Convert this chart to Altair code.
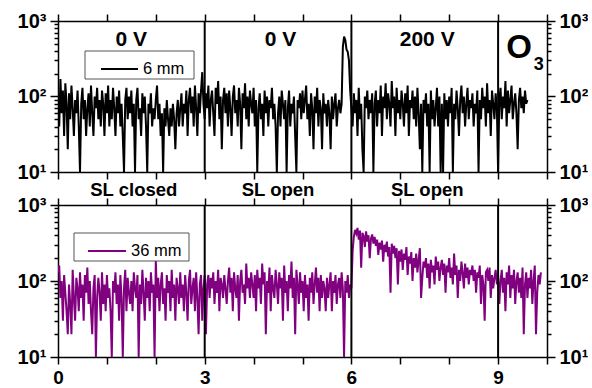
import altair as alt
import numpy as np
import pandas as pd

# ---------------- data ----------------
step = 0.025  # time step of the traces (x units)

top_6mm = [
    90, 40, 170, 60, 120, 30, 150, 80, 20, 110, 50, 140, 70, 30, 90, 60, 120, 40, 10, 80,
    130, 50, 90, 30, 70, 110, 40, 140, 60, 30, 100, 70, 130, 50, 90, 40, 120, 80, 30, 110,
    60, 140, 40, 90, 50, 130, 70, 30, 100, 60, 120, 40, 80, 30, 10, 90, 130, 50, 100, 60,
    120, 40, 80, 10, 90, 130, 50, 70, 30, 110, 60, 100, 40, 10, 80, 60, 110, 40, 70, 50,
    90, 140, 50, 80, 30, 60, 10, 70, 40, 90, 50, 30, 70, 40, 80, 50, 20, 60, 90, 40,
    70, 110, 40, 80, 60, 120, 30, 90, 130, 60, 100, 40, 140, 70, 30, 110, 60, 120, 210, 80,
    50, 110, 70, 140, 40, 90, 120, 60, 30, 130, 80, 160, 50, 100, 20, 90, 130, 60, 110, 40,
    120, 70, 30, 100, 140, 60, 90, 40, 130, 80, 20, 110, 70, 150, 50, 100, 40, 120, 80, 60,
    130, 40, 90, 10, 70, 110, 50, 80, 30, 120, 60, 100, 40, 90, 70, 130, 50, 80, 40, 10,
    60, 100, 40, 120, 80, 50, 90, 10, 70, 120, 40, 80, 60, 100, 30, 10, 90, 70, 110, 50,
    120, 60, 90, 140, 50, 80, 30, 110, 70, 20, 100, 60, 130, 40, 90, 70, 20, 110, 60, 80,
    40, 90, 60, 20, 100, 50, 80, 110, 40, 70, 90, 60, 80, 450, 620, 560, 420, 390, 300, 120,
    70, 40, 110, 60, 90, 30, 130, 50, 80, 20, 10, 100, 70, 120, 50, 90, 60, 110, 10, 80,
    120, 40, 90, 60, 140, 30, 100, 70, 150, 50, 110, 80, 40, 160, 70, 100, 30, 130, 60, 90,
    50, 120, 80, 40, 110, 60, 140, 30, 90, 70, 120, 50, 100, 40, 130, 60, 20, 80, 10, 90,
    60, 110, 40, 80, 10, 120, 50, 90, 40, 70, 130, 40, 100, 10, 80, 10, 110, 50, 90, 40,
    100, 60, 130, 10, 80, 50, 120, 70, 30, 90, 140, 60, 100, 40, 80, 130, 50, 90, 70, 110,
    40, 80, 60, 120, 10, 90, 50, 130, 70, 100, 40, 150, 60, 90, 30, 120, 80, 50, 110, 70,
    10, 90, 130, 50, 100, 70, 160, 40, 120, 60, 90, 140, 50, 80, 110, 60, 20, 90, 130, 70,
    100, 60, 120, 80, 90,
]

bottom_36mm = [
    130, 160, 60, 100, 30, 120, 70, 40, 20, 90, 50, 20, 140, 60, 30, 110, 80, 40, 130, 60,
    90, 30, 120, 70, 150, 50, 100, 40, 20, 80, 120, 10, 60, 110, 70, 30, 130, 50, 90, 40,
    120, 60, 80, 40, 10, 100, 70, 130, 50, 90, 30, 120, 60, 10, 80, 140, 40, 110, 70, 50,
    100, 40, 130, 80, 60, 120, 10, 90, 50, 140, 70, 30, 110, 60, 100, 40, 130, 70, 90, 10,
    190, 60, 110, 40, 90, 130, 50, 80, 30, 120, 70, 100, 40, 140, 60, 90, 30, 110, 80, 50,
    130, 60, 90, 40, 120, 70, 30, 100, 140, 50, 80, 110, 40, 130, 60, 20, 90, 120, 30, 80,
    120, 20, 90, 120, 60, 110, 80, 130, 50, 100, 70, 140, 40, 110, 90, 60, 120, 80, 50, 100,
    150, 70, 110, 40, 130, 80, 60, 120, 30, 100, 140, 70, 90, 50, 170, 80, 110, 60, 130, 90,
    60, 120, 40, 140, 80, 110, 50, 170, 90, 130, 20, 100, 70, 150, 40, 120, 80, 60, 140, 90,
    50, 130, 80, 110, 30, 160, 70, 100, 40, 120, 80, 180, 60, 110, 20, 140, 90, 50, 130, 70,
    100, 40, 120, 60, 90, 30, 110, 70, 130, 50, 90, 150, 70, 110, 40, 120, 60, 100, 80, 40,
    110, 60, 90, 130, 40, 100, 70, 120, 50, 90, 110, 60, 130, 80, 10, 100, 70, 120, 60, 90,
    80, 250, 380, 470, 420, 500, 350, 460, 150, 430, 390, 280, 450, 330, 400, 200, 360, 410, 310, 380,
    290, 350, 220, 320, 260, 340, 180, 300, 240, 330, 210, 280, 70, 310, 230, 290, 200, 270, 90, 250,
    180, 260, 140, 230, 190, 280, 120, 210, 170, 240, 100, 200, 150, 230, 130, 190, 270, 60, 110, 180,
    150, 200, 110, 170, 80, 190, 130, 160, 90, 210, 140, 180, 100, 150, 190, 120, 170, 70, 160, 130,
    200, 110, 150, 90, 230, 120, 160, 60, 140, 100, 180, 130, 80, 170, 110, 150, 90, 140, 120, 160,
    100, 140, 70, 130, 110, 160, 50, 120, 90, 30, 130, 140, 100, 150, 60, 120, 80, 110, 140, 90,
    120, 50, 100, 140, 70, 110, 40, 130, 90, 160, 60, 120, 80, 140, 50, 100, 130, 70, 110, 60,
    150, 20, 90, 130, 60, 110, 80, 140, 50, 100, 160, 20, 70, 120, 90, 130,
]

dividers = [3, 6, 9]
voltage_text = ["0 V", "0 V", "200 V"]
voltage_x = [1.5, 4.55, 7.55]
shutter_text = ["SL closed", "SL open", "SL open"]
shutter_x = [1.55, 4.5, 7.55]
species_text = ["O", "3"]
species_x = [9.43, 9.83]
x_ticks = list(range(0, 11))
y_ticks = [10, 20, 30, 40, 50, 60, 70, 80, 90,
           100, 200, 300, 400, 500, 600, 700, 800, 900, 1000]

# ---------------- styling ----------------
FONT = "Liberation Sans"
W = 489

xscale = alt.Scale(domain=[0, 10], nice=False, zero=False)
yscale = alt.Scale(type="log", domain=[10, 1000], nice=False)

MAJOR = "datum.value == 10 || datum.value == 100 || datum.value == 1000"
YLAB = ("datum.value == 10 ? '10\u00b9' : datum.value == 100 ? '10\u00b2' : "
        "datum.value == 1000 ? '10\u00b3' : ''")


def y_axis(orient):
    return alt.Axis(orient=orient, values=y_ticks, labelExpr=YLAB,
                    tickSize={"condition": {"test": MAJOR, "value": 8}, "value": 4},
                    labelFontSize=20, labelPadding=4, title=None, grid=False,
                    labelOverlap=False)


def x_axis(orient, labels):
    kw = dict(orient=orient, values=x_ticks, tickSize=7, title=None, grid=False,
              labelFlush=False)
    if labels:
        kw.update(labelExpr="datum.value % 3 == 0 ? datum.label : ''",
                  labelFontSize=19, labelPadding=4, labelOverlap=False)
    else:
        kw.update(labels=False)
    return alt.Axis(**kw)


def panel(values, color, name, box, sym, texts, text_x, text_y, text_size,
          bottom_labels, height, extra=None):
    df = pd.DataFrame({"t": np.arange(len(values)) * step, "counts": values})
    line = alt.Chart(df).mark_line(color=color, strokeWidth=2, clip=True).encode(
        x=alt.X("t:Q", scale=xscale, axis=x_axis("bottom", bottom_labels)),
        y=alt.Y("counts:Q", scale=yscale, axis=y_axis("left")),
    )
    frame = alt.Chart(df).mark_point(opacity=0).encode(
        x=alt.X("t:Q", scale=xscale, axis=x_axis("top", False)),
        y=alt.Y("counts:Q", scale=yscale, axis=y_axis("right")),
    )
    rules = alt.Chart(pd.DataFrame({"t": dividers})).mark_rule(
        color="black", strokeWidth=2).encode(
        x=alt.X("t:Q", scale=xscale, axis=None))
    labels = alt.Chart(pd.DataFrame({"t": text_x, "label": texts})).mark_text(
        font=FONT, fontWeight="bold", fontSize=text_size, color="black",
        baseline="middle").encode(
        x=alt.X("t:Q", scale=xscale, axis=None), y=alt.value(text_y),
        text="label:N")
    lg = pd.DataFrame({"name": [name]})
    lbox = alt.Chart(lg).mark_rect(fill="white", stroke="#555555",
                                   strokeWidth=1).encode(
        x=alt.value(box[0]), x2=alt.value(box[1]),
        y=alt.value(box[2]), y2=alt.value(box[3]))
    lsym = alt.Chart(lg).mark_rule(color=color, strokeWidth=2).encode(
        x=alt.value(sym[0]), x2=alt.value(sym[1]), y=alt.value(sym[2]))
    ltxt = alt.Chart(lg).mark_text(font=FONT, fontSize=16.5, color="black",
                                   align="left", baseline="middle").encode(
        x=alt.value(sym[1] + 5), y=alt.value(sym[2]), text="name:N")
    layers = [line, frame, rules, labels, lbox, lsym, ltxt]
    if extra is not None:
        layers += extra
    return alt.layer(*layers).properties(width=W, height=height).resolve_axis(
        x="independent", y="independent")


species = [
    alt.Chart(pd.DataFrame({"t": [species_x[0]], "label": [species_text[0]]}))
    .mark_text(font=FONT, fontWeight="bold", fontSize=33, color="black",
               baseline="middle")
    .encode(x=alt.X("t:Q", scale=xscale, axis=None), y=alt.value(27), text="label:N"),
    alt.Chart(pd.DataFrame({"t": [species_x[1]], "label": [species_text[1]]}))
    .mark_text(font=FONT, fontWeight="bold", fontSize=18, color="black",
               baseline="middle")
    .encode(x=alt.X("t:Q", scale=xscale, axis=None), y=alt.value(44), text="label:N"),
]

top = panel(top_6mm, "black", "6 mm", (27, 136, 30, 58), (43, 80, 48),
            voltage_text, voltage_x, 19, 21, False, 151, extra=species)
bottom = panel(bottom_36mm, "#800080", "36 mm", (16, 131, 28, 56), (30, 68, 46),
               shutter_text, shutter_x, -15, 18.5, True, 152)

chart = (
    alt.vconcat(top, bottom, spacing=33, bounds="flush")
    .properties(padding={"left": 17, "top": 11, "right": 0, "bottom": 0},
                background="white")
    .configure_view(stroke=None)
    .configure_axis(domainColor="black", domainWidth=1.5, tickColor="black",
                    tickWidth=1.5, labelFont=FONT, labelFontWeight="bold",
                    labelColor="black")
)

chart.save("out.html", embed_options={"renderer": "svg", "actions": False})
